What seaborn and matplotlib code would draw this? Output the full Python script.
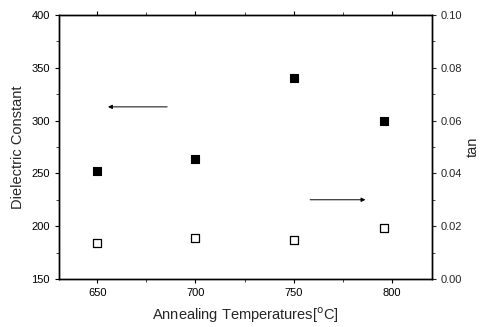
import numpy as np
import pandas as pd
import matplotlib
matplotlib.use("Agg")
import matplotlib.pyplot as plt
import seaborn as sns

# data
temps = [650, 700, 750, 796]
dielectric = [252, 264, 340, 300]
tan_loss = [0.0136, 0.0155, 0.0148, 0.0193]

df = pd.DataFrame({"temp": temps, "eps": dielectric, "tan": tan_loss})

sns.set_style("ticks")
plt.rcParams["font.family"] = ["Liberation Sans", "DejaVu Sans"]

fig = plt.figure(figsize=(4.8, 3.27), dpi=100)
ax = fig.add_axes([0.123, 0.147, 0.777, 0.807])
ax2 = ax.twinx()

sns.scatterplot(data=df, x="temp", y="eps", ax=ax, marker="s", s=40,
                color="black", edgecolor="black", linewidth=0.8, zorder=3)
sns.scatterplot(data=df, x="temp", y="tan", ax=ax2, marker="s", s=40,
                facecolor="white", edgecolor="black", linewidth=0.9, zorder=3)

ax.set_xticks([650, 700, 750, 800])
ax.set_xticks(np.arange(650, 826, 25), minor=True)
ax.set_yticks(np.arange(150, 401, 50))
ax.set_yticks(np.arange(150, 401, 25), minor=True)
ax2.set_yticks(np.arange(0, 0.101, 0.02))
ax2.set_yticks(np.arange(0, 0.101, 0.01), minor=True)
ax2.yaxis.set_major_formatter(matplotlib.ticker.FormatStrFormatter("%.2f"))

# limits after the ticks, set_xticks would widen them
ax.set_xlim(630.5, 820.5)
ax.set_ylim(150, 400)
ax2.set_ylim(0, 0.1)

for a in (ax, ax2):
    for s in a.spines.values():
        s.set_visible(True)
        s.set_linewidth(1.0)
        s.set_color("black")
ax.tick_params(axis="both", which="major", labelsize=8, length=3, width=0.8,
               direction="out", colors="black")
ax.tick_params(axis="both", which="minor", length=2, width=0.6, direction="out")
ax.tick_params(axis="x", which="both", top=True)
ax2.tick_params(axis="y", which="major", labelsize=8, length=3, width=0.8, direction="out")
ax2.tick_params(axis="y", which="minor", length=2, width=0.6, direction="out")

ax.set_xlabel("Annealing Temperatures[$^{\\rm o}$C]", fontsize=10.5, labelpad=5)
ax.set_ylabel("Dielectric Constant", fontsize=10.5, labelpad=5)
ax2.set_ylabel("tan", fontsize=10.5, labelpad=2)

# arrows pointing at the axis each series belongs to
ax.annotate("", xy=(654, 313), xytext=(687, 313),
            arrowprops=dict(arrowstyle="-|>", color="black", lw=0.7, mutation_scale=6))
ax2.annotate("", xy=(788, 0.030), xytext=(757, 0.030),
             arrowprops=dict(arrowstyle="-|>", color="black", lw=0.7, mutation_scale=6))

fig.savefig("out.png", dpi=100)
